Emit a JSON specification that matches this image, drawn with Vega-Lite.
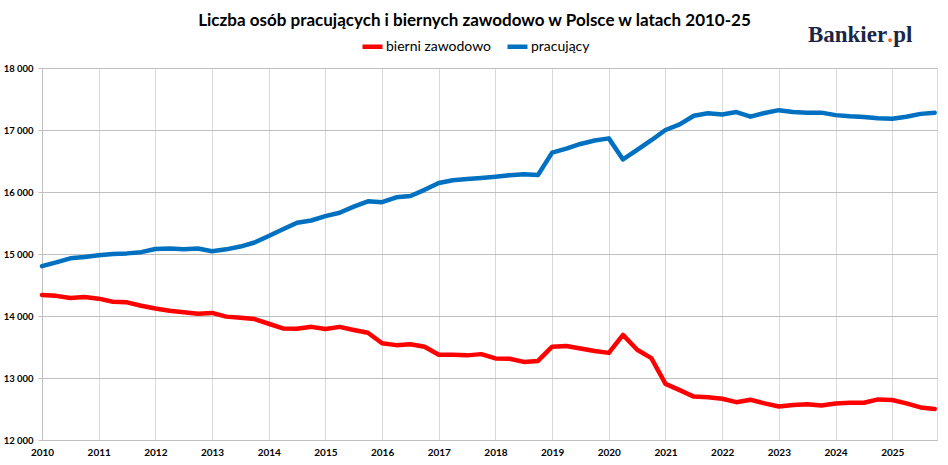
{
  "$schema": "https://vega.github.io/schema/vega-lite/v6.json",
  "width": 895,
  "height": 372,
  "autosize": "none",
  "padding": {"left": 42, "top": 68, "right": 11, "bottom": 25},
  "background": "white",
  "title": {
    "text": "Liczba osób pracujących i biernych zawodowo w Polsce w latach 2010-25",
    "font": "Lato",
    "fontSize": 17,
    "fontWeight": "bold",
    "color": "#000000",
    "anchor": "middle",
    "dx": -15,
    "offset": -6
  },
  "layer": [
    {
      "data": {
        "values": [
          {"t": 2010.00, "bierni zawodowo": 14340, "pracujący": 14805},
          {"t": 2010.25, "bierni zawodowo": 14325, "pracujący": 14865},
          {"t": 2010.50, "bierni zawodowo": 14290, "pracujący": 14930},
          {"t": 2010.75, "bierni zawodowo": 14305, "pracujący": 14950},
          {"t": 2011.00, "bierni zawodowo": 14280, "pracujący": 14980},
          {"t": 2011.25, "bierni zawodowo": 14230, "pracujący": 15000},
          {"t": 2011.50, "bierni zawodowo": 14220, "pracujący": 15010},
          {"t": 2011.75, "bierni zawodowo": 14165, "pracujący": 15030},
          {"t": 2012.00, "bierni zawodowo": 14120, "pracujący": 15080},
          {"t": 2012.25, "bierni zawodowo": 14085, "pracujący": 15090},
          {"t": 2012.50, "bierni zawodowo": 14060, "pracujący": 15075},
          {"t": 2012.75, "bierni zawodowo": 14035, "pracujący": 15090},
          {"t": 2013.00, "bierni zawodowo": 14050, "pracujący": 15045},
          {"t": 2013.25, "bierni zawodowo": 13990, "pracujący": 15075},
          {"t": 2013.50, "bierni zawodowo": 13970, "pracujący": 15120},
          {"t": 2013.75, "bierni zawodowo": 13950, "pracujący": 15185},
          {"t": 2014.00, "bierni zawodowo": 13875, "pracujący": 15290},
          {"t": 2014.25, "bierni zawodowo": 13800, "pracujący": 15400},
          {"t": 2014.50, "bierni zawodowo": 13795, "pracujący": 15505},
          {"t": 2014.75, "bierni zawodowo": 13825, "pracujący": 15540},
          {"t": 2015.00, "bierni zawodowo": 13790, "pracujący": 15610},
          {"t": 2015.25, "bierni zawodowo": 13825, "pracujący": 15665},
          {"t": 2015.50, "bierni zawodowo": 13775, "pracujący": 15765},
          {"t": 2015.75, "bierni zawodowo": 13730, "pracujący": 15850},
          {"t": 2016.00, "bierni zawodowo": 13560, "pracujący": 15835},
          {"t": 2016.25, "bierni zawodowo": 13530, "pracujący": 15915},
          {"t": 2016.50, "bierni zawodowo": 13545, "pracujący": 15935},
          {"t": 2016.75, "bierni zawodowo": 13505, "pracujący": 16035},
          {"t": 2017.00, "bierni zawodowo": 13375, "pracujący": 16145},
          {"t": 2017.25, "bierni zawodowo": 13375, "pracujący": 16190},
          {"t": 2017.50, "bierni zawodowo": 13365, "pracujący": 16210},
          {"t": 2017.75, "bierni zawodowo": 13385, "pracujący": 16225},
          {"t": 2018.00, "bierni zawodowo": 13315, "pracujący": 16245},
          {"t": 2018.25, "bierni zawodowo": 13310, "pracujący": 16270},
          {"t": 2018.50, "bierni zawodowo": 13260, "pracujący": 16285},
          {"t": 2018.75, "bierni zawodowo": 13275, "pracujący": 16275},
          {"t": 2019.00, "bierni zawodowo": 13505, "pracujący": 16635},
          {"t": 2019.25, "bierni zawodowo": 13515, "pracujący": 16700},
          {"t": 2019.50, "bierni zawodowo": 13475, "pracujący": 16775},
          {"t": 2019.75, "bierni zawodowo": 13435, "pracujący": 16830},
          {"t": 2020.00, "bierni zawodowo": 13405, "pracujący": 16865},
          {"t": 2020.25, "bierni zawodowo": 13695, "pracujący": 16525},
          {"t": 2020.50, "bierni zawodowo": 13455, "pracujący": 16680},
          {"t": 2020.75, "bierni zawodowo": 13320, "pracujący": 16835},
          {"t": 2021.00, "bierni zawodowo": 12905, "pracujący": 17000},
          {"t": 2021.25, "bierni zawodowo": 12805, "pracujący": 17090},
          {"t": 2021.50, "bierni zawodowo": 12700, "pracujący": 17230},
          {"t": 2021.75, "bierni zawodowo": 12690, "pracujący": 17270},
          {"t": 2022.00, "bierni zawodowo": 12665, "pracujący": 17250},
          {"t": 2022.25, "bierni zawodowo": 12610, "pracujący": 17290},
          {"t": 2022.50, "bierni zawodowo": 12650, "pracujący": 17215},
          {"t": 2022.75, "bierni zawodowo": 12590, "pracujący": 17275},
          {"t": 2023.00, "bierni zawodowo": 12540, "pracujący": 17320},
          {"t": 2023.25, "bierni zawodowo": 12565, "pracujący": 17290},
          {"t": 2023.50, "bierni zawodowo": 12575, "pracujący": 17280},
          {"t": 2023.75, "bierni zawodowo": 12555, "pracujący": 17280},
          {"t": 2024.00, "bierni zawodowo": 12590, "pracujący": 17240},
          {"t": 2024.25, "bierni zawodowo": 12600, "pracujący": 17220},
          {"t": 2024.50, "bierni zawodowo": 12600, "pracujący": 17210},
          {"t": 2024.75, "bierni zawodowo": 12655, "pracujący": 17190},
          {"t": 2025.00, "bierni zawodowo": 12645, "pracujący": 17180},
          {"t": 2025.25, "bierni zawodowo": 12590, "pracujący": 17215},
          {"t": 2025.50, "bierni zawodowo": 12525, "pracujący": 17260},
          {"t": 2025.75, "bierni zawodowo": 12500, "pracujący": 17280}
        ]
      },
      "transform": [
        {"fold": ["bierni zawodowo", "pracujący"], "as": ["seria", "v"]}
      ],
      "mark": {"type": "line", "strokeWidth": 4.5, "strokeCap": "round", "strokeJoin": "round"},
      "encoding": {
        "x": {
          "field": "t",
          "type": "quantitative",
          "scale": {"domain": [2010, 2025.79], "nice": false, "zero": false},
          "axis": {
            "title": null,
            "values": [2010, 2010.5, 2011, 2011.5, 2012, 2012.5, 2013, 2013.5, 2014, 2014.5, 2015, 2015.5, 2016, 2016.5, 2017, 2017.5, 2018, 2018.5, 2019, 2019.5, 2020, 2020.5, 2021, 2021.5, 2022, 2022.5, 2023, 2023.5, 2024, 2024.5, 2025, 2025.5],
            "labelExpr": "datum.value % 1 == 0 ? '' + datum.value : ''",
            "labelFlush": false,
            "labelOverlap": false,
            "labelFont": "Lato",
            "labelFontSize": 10,
            "labelFontWeight": "bold",
            "labelColor": "#000000",
            "labelPadding": 7,
            "ticks": false,
            "grid": true,
            "gridColor": "#d9d9d9",
            "gridWidth": 1,
            "domainColor": "#bfbfbf",
            "domainWidth": 1
          }
        },
        "y": {
          "field": "v",
          "type": "quantitative",
          "scale": {"domain": [12000, 18000], "nice": false, "zero": false},
          "axis": {
            "title": null,
            "values": [12000, 13000, 14000, 15000, 16000, 17000, 18000],
            "labelExpr": "replace(format(datum.value, ','), ',', ' ')",
            "labelFont": "Lato",
            "labelFontSize": 9.5,
            "labelFontWeight": "bold",
            "labelColor": "#000000",
            "labelPadding": 5,
            "tickSize": 4,
            "tickColor": "#bfbfbf",
            "grid": true,
            "gridColor": "#bfbfbf",
            "gridWidth": 1,
            "domainColor": "#bfbfbf",
            "domainWidth": 1
          }
        },
        "color": {
          "field": "seria",
          "type": "nominal",
          "scale": {"domain": ["bierni zawodowo", "pracujący"], "range": ["#ff0000", "#0070c0"]},
          "legend": {
            "title": null,
            "orient": "none",
            "direction": "horizontal",
            "legendX": 318,
            "legendY": -34,
            "symbolType": "stroke",
            "symbolSize": 400,
            "symbolStrokeWidth": 4.5,
            "labelFont": "Lato",
            "labelFontSize": 14,
            "labelColor": "#000000",
            "labelOffset": 1,
            "columnPadding": 6
          }
        }
      }
    },
    {
      "data": {"values": [{"a": "Bankier", "b": ".", "c": "pl"}]},
      "layer": [
        {
          "mark": {"type": "text", "align": "right", "baseline": "middle", "font": "Liberation Serif", "fontWeight": "bold", "fontSize": 23, "color": "#1b2545"},
          "encoding": {"text": {"field": "a"}, "x": {"datum": 2024.911}, "y": {"datum": 18540}}
        },
        {
          "mark": {"type": "text", "align": "left", "baseline": "middle", "font": "Liberation Serif", "fontWeight": "bold", "fontSize": 23, "color": "#f0642d"},
          "encoding": {"text": {"field": "b"}, "x": {"datum": 2024.911}, "y": {"datum": 18540}}
        },
        {
          "mark": {"type": "text", "align": "left", "baseline": "middle", "font": "Liberation Serif", "fontWeight": "bold", "fontSize": 23, "color": "#1b2545", "dx": 6},
          "encoding": {"text": {"field": "c"}, "x": {"datum": 2024.911}, "y": {"datum": 18540}}
        }
      ]
    }
  ]
}
